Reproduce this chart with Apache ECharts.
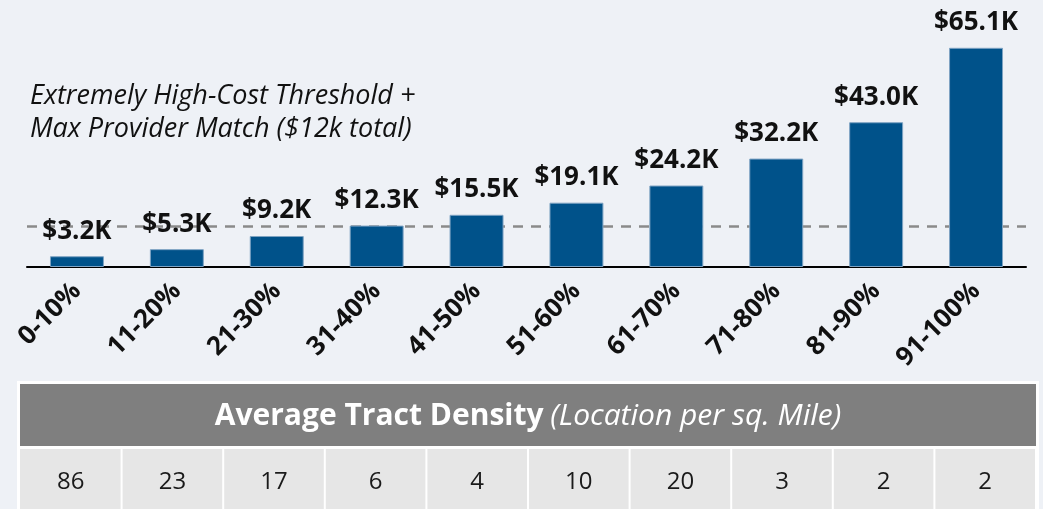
<!DOCTYPE html>
<html>
<head>
<meta charset="utf-8">
<script src="https://cdn.jsdelivr.net/npm/echarts@6/dist/echarts.min.js"></script>
<style>
  html, body { margin: 0; padding: 0; background: #eef1f6; }
  #chart { width: 1043px; height: 509px; }
</style>
</head>
<body>
<div id="chart"></div>
<script>
const categories = ['0-10%', '11-20%', '21-30%', '31-40%', '41-50%', '51-60%', '61-70%', '71-80%', '81-90%', '91-100%'];
const costs = [3.2, 5.3, 9.2, 12.3, 15.5, 19.1, 24.2, 32.2, 43.0, 65.1];
const density = [86, 23, 17, 6, 4, 10, 20, 3, 2, 2];
const threshold = 12;

const chart = echarts.init(document.getElementById('chart'));

// table under the chart
const tblLeft = 20, tblRight = 1036, colW = (tblRight - tblLeft) / density.length;
const table = [
    { type: 'rect', shape: { x: 17, y: 381, width: 1022, height: 140 }, style: { fill: '#ffffff' } },
    { type: 'rect', shape: { x: tblLeft, y: 384, width: tblRight - tblLeft, height: 62 }, style: { fill: '#7f7f7f' } },
    {
        type: 'text', x: 528, y: 416,
        style: {
            text: '{b|Average Tract Density}  {i|(Location per sq. Mile)}',
            align: 'center', verticalAlign: 'middle',
            rich: {
                b: { fontFamily: 'Open Sans', fontWeight: 'bold', fontSize: 30, fill: '#ffffff' },
                i: { fontFamily: 'Open Sans', fontStyle: 'italic', fontSize: 30, fill: '#ffffff' }
            }
        }
    }
];
density.forEach((d, i) => {
    table.push({ type: 'rect', shape: { x: tblLeft + i * colW + (i ? 1 : 0), y: 449, width: colW - (i ? 2 : 1), height: 70 }, style: { fill: '#e6e6e6' } });
    table.push({
        type: 'text', x: tblLeft + (i + 0.5) * colW, y: 482,
        style: { text: String(d), align: 'center', verticalAlign: 'middle', fontFamily: 'Open Sans', fontSize: 24, fill: '#1a1a1a' }
    });
});

chart.setOption({
    backgroundColor: '#eef1f6',
    grid: { left: 27, right: 17, top: 0, bottom: 242 },
    xAxis: {
        type: 'category',
        data: categories,
        axisLine: { lineStyle: { color: '#000000', width: 2 } },
        axisTick: { show: false },
        axisLabel: {
            rotate: 45, margin: 20, interval: 0,
            fontFamily: 'Open Sans', fontWeight: 'bold', fontSize: 26, color: '#111111'
        }
    },
    yAxis: {
        type: 'value', min: 0, max: 79.3,
        show: false, splitLine: { show: false }
    },
    series: [{
        type: 'bar',
        data: costs,
        barWidth: '54%',
        itemStyle: { color: '#00528a', borderColor: '#7ea3c3', borderWidth: 1 },
        label: {
            show: true, position: 'top', distance: 12,
            formatter: p => '$' + p.value.toFixed(1) + 'K',
            fontFamily: 'Open Sans', fontWeight: 'bold', fontSize: 26, color: '#111111'
        },
        markLine: {
            symbol: 'none', silent: true, z: 1,
            label: { show: false },
            lineStyle: { color: '#8a8a8a', type: [10, 8], width: 2.5 },
            data: [{ yAxis: threshold }]
        }
    }],
    graphic: [
        {
            type: 'text', left: 30, top: 80,
            style: {
                text: 'Extremely High-Cost Threshold +\nMax Provider Match ($12k total)',
                fontFamily: 'Open Sans', fontStyle: 'italic', fontSize: 27, lineHeight: 33, fill: '#111111'
            }
        }
    ].concat(table)
});
</script>
</body>
</html>
